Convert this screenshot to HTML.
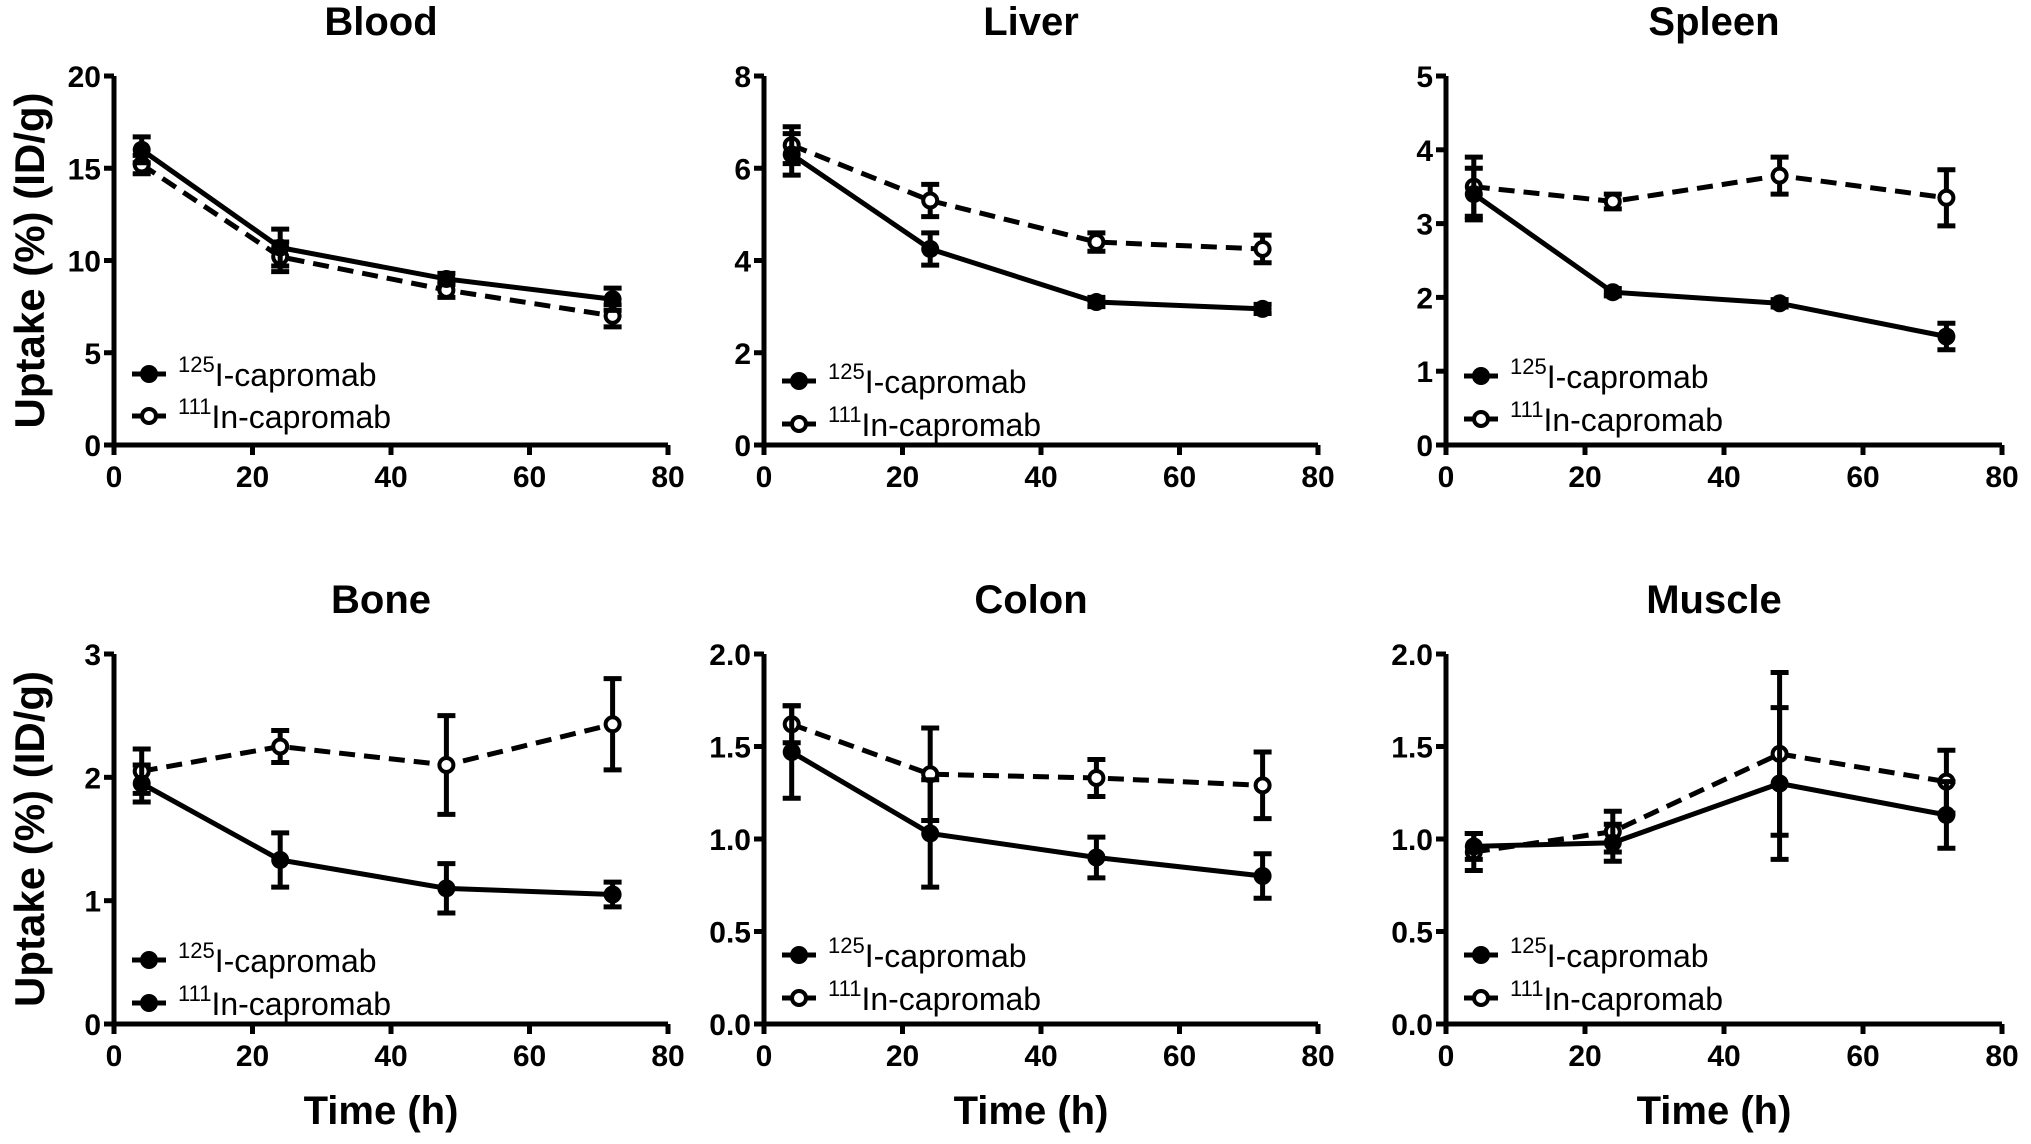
<!DOCTYPE html>
<html><head><meta charset="utf-8"><style>
html,body{margin:0;padding:0;background:#fff;}
svg{display:block;font-family:"Liberation Sans",Arial,sans-serif;}
</style></head><body>
<svg id="fig" width="2031" height="1144" viewBox="0 0 2031 1144"></svg>
<script>
const xTicks=[0,20,40,60,80];
const timePoints=[4,24,48,72];
const panelTitles=["Blood","Liver","Spleen","Bone","Colon","Muscle"];
const yMaxes=[20,8,5,3,2,2];
const yTickLabels=[["0","5","10","15","20"],["0","2","4","6","8"],["0","1","2","3","4","5"],["0","1","2","3"],["0.0","0.5","1.0","1.5","2.0"],["0.0","0.5","1.0","1.5","2.0"]];
const iValues=[[16.0,10.7,9.0,7.9],[6.3,4.25,3.1,2.95],[3.4,2.07,1.92,1.47],[1.95,1.33,1.1,1.05],[1.47,1.03,0.9,0.8],[0.96,0.98,1.3,1.13]];
const iErrors=[[0.7,1.0,0.3,0.6],[0.45,0.35,0.1,0.1],[0.35,0.05,0.05,0.18],[0.15,0.22,0.2,0.1],[0.25,0.29,0.11,0.12],[0.07,0.1,0.41,0.18]];
const inValues=[[15.2,10.2,8.4,7.0],[6.5,5.3,4.4,4.25],[3.5,3.3,3.65,3.35],[2.05,2.25,2.1,2.43],[1.62,1.35,1.33,1.29],[0.93,1.04,1.46,1.31]];
const inErrors=[[0.5,0.8,0.4,0.6],[0.4,0.35,0.2,0.3],[0.4,0.1,0.25,0.38],[0.18,0.13,0.4,0.37],[0.1,0.25,0.1,0.18],[0.1,0.11,0.44,0.17]];

const NS="http://www.w3.org/2000/svg";
const svg=document.getElementById('fig');
function mk(tag,attrs,parent){const e=document.createElementNS(NS,tag);for(const k in attrs)e.setAttribute(k,attrs[k]);(parent||svg).appendChild(e);return e;}
const lefts=[114,764,1446];
const widths=[554,554,556];
const tops=[76,654], bottoms=[445,1024];
const legendY=[[374,416],[381,424],[376,419],[960,1003],[955,998],[955,998]];

for(let p=0;p<6;p++){
  const col=p%3,row=Math.floor(p/3);
  const L=lefts[col],W=widths[col],T=tops[row],B=bottoms[row];
  const g=mk('g',{});
  
  
  const xs=v=>L+v/80*W;
  const ys=v=>B-v/yMaxes[p]*(B-T);
  const t=mk('text',{x:L+W/2-10,y:T-41,'text-anchor':'middle','font-size':40,'font-weight':'bold'},g);
  t.textContent=panelTitles[p];
  
  
  const ax=mk('path',{d:`M${L},${T} V${B} H${L+W}`,stroke:'#000','stroke-width':5,fill:'none'},g);
  
  
  xTicks.forEach(v=>{
    mk('line',{x1:xs(v),x2:xs(v),y1:B,y2:B+10,stroke:'#000','stroke-width':5},g);
    const tl=mk('text',{x:xs(v),y:B+42,'text-anchor':'middle','font-size':30,'font-weight':'bold'},g);
    tl.textContent=v;
    
    
  });
  yTickLabels[p].forEach(s=>{
    const v=parseFloat(s);
    mk('line',{x1:L-10,x2:L,y1:ys(v),y2:ys(v),stroke:'#000','stroke-width':5},g);
    const tl=mk('text',{x:L-13,y:ys(v)+11,'text-anchor':'end','font-size':30,'font-weight':'bold'},g);
    tl.textContent=s;
    
    
  });
  const series=[[inValues[p],inErrors[p],true],[iValues[p],iErrors[p],false]];
  series.forEach(([vals,errs,dashed])=>{
    const sg=mk('g',{},g);
    
    
    timePoints.forEach((tp,i)=>{
      const x=xs(tp);
      mk('line',{x1:x,x2:x,y1:ys(vals[i]-errs[i]),y2:ys(vals[i]+errs[i]),stroke:'#000','stroke-width':5},sg);
      mk('line',{x1:x-9,x2:x+9,y1:ys(vals[i]-errs[i]),y2:ys(vals[i]-errs[i]),stroke:'#000','stroke-width':5},sg);
      mk('line',{x1:x-9,x2:x+9,y1:ys(vals[i]+errs[i]),y2:ys(vals[i]+errs[i]),stroke:'#000','stroke-width':5},sg);
    });
    const pts=timePoints.map((tp,i)=>xs(tp)+','+ys(vals[i])).join(' ');
    const ln=mk('polyline',{points:pts,fill:'none',stroke:'#000','stroke-width':5},sg);
    if(dashed)ln.setAttribute('stroke-dasharray','16,9');
    timePoints.forEach((tp,i)=>{
      const c=mk('circle',{cx:xs(tp),cy:ys(vals[i]),r:dashed?7:9,fill:dashed?'#fff':'#000',stroke:'#000','stroke-width':dashed?4:0},sg);
      
      
    });
  });
  const labs=[["125","I-capromab",false],["111","In-capromab",p!==3]];
  labs.forEach((lb,k)=>{
    const y=legendY[p][k];
    const lg=mk('g',{},g);
    
    
    mk('line',{x1:L+18,x2:L+52,y1:y,y2:y,stroke:'#000','stroke-width':5},lg);
    mk('circle',{cx:L+35,cy:y,r:lb[2]?7:9,fill:lb[2]?'#fff':'#000',stroke:'#000','stroke-width':lb[2]?4:0},lg);
    const tx=mk('text',{x:L+64,y:y+12,'font-size':32},lg);
    const sup=mk('tspan',{'font-size':22,dy:-14},tx);sup.textContent=lb[0];
    const rest=mk('tspan',{dy:14},tx);rest.textContent=lb[1];
  });
  if(row===1){
    const xt=mk('text',{x:L+W/2-10,y:1124,'text-anchor':'middle','font-size':40,'font-weight':'bold'},g);
    xt.textContent='Time (h)';
    
    
  }
  if(col===0){
    const cy=(T+B)/2;
    const yt=mk('text',{x:0,y:0,'text-anchor':'middle','font-size':42,'font-weight':'bold',transform:`translate(44,${cy}) rotate(-90)`},g);
    yt.textContent='Uptake (%) (ID/g)';
    
    
  }
}
</script>
</body></html>
